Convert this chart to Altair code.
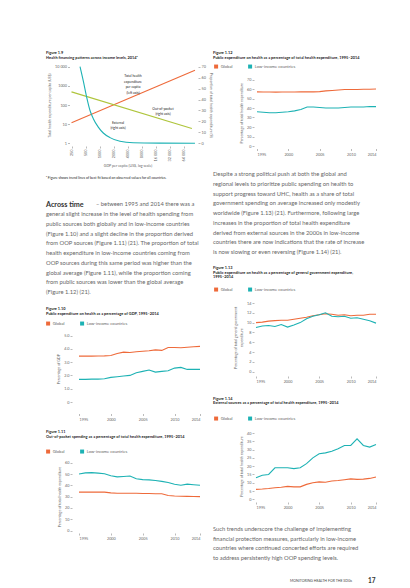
import altair as alt
import pandas as pd

# ---------------- data ----------------
years = list(range(1995, 2015))

# Figure 1.9 - trend lines across GDP per capita (log scale)
f19_gdp_ticks = [250, 500, 1000, 2000, 4000, 8000, 16000, 32000, 64000]
f19_the_gdp = [250, 113000]
f19_the_val = [12, 6600]
f19_oop_gdp = [250, 97000]
f19_oop_val = [47, 13.5]
f19_ext_gdp = [381, 448, 531, 625, 736, 942, 1206, 1682, 2755, 5320, 20000, 113000]
f19_ext_val = [70, 57, 42, 30, 22.5, 14.8, 9.4, 5.2, 1.8, 0.5, 0.2, 0.1]

# Figure 1.10 - public expenditure on health, % of GDP
f110_global = [3.45, 3.45, 3.45, 3.46, 3.47, 3.5, 3.65, 3.75, 3.72, 3.78, 3.82, 3.85, 3.92, 3.88, 4.1, 4.1, 4.08, 4.12, 4.15, 4.18]
f110_low = [1.7, 1.7, 1.72, 1.72, 1.75, 1.85, 1.9, 1.95, 2.0, 2.2, 2.3, 2.4, 2.25, 2.3, 2.35, 2.55, 2.6, 2.45, 2.45, 2.45]

# Figure 1.11 - out-of-pocket, % of total health expenditure
f111_global = [34, 34, 34, 34, 34, 33.3, 33, 33, 33, 33, 32.8, 32.8, 32.5, 32.5, 31, 30.5, 30.3, 30.2, 30.1, 30]
f111_low = [50, 51, 51.2, 50.8, 50.2, 48.5, 47.5, 47.8, 48.2, 45.8, 45, 44.8, 44.2, 43.5, 42.5, 41, 40, 41, 40.5, 40]

# Figure 1.12 - public expenditure, % of total health expenditure
f112_global = [57, 56.8, 56.8, 56.7, 56.8, 56.8, 56.9, 57, 57, 57, 57.2, 58, 58.5, 59, 59.5, 59.5, 59.5, 59.8, 59.8, 60]
f112_low = [36, 35.5, 35, 35, 35.5, 36, 37, 38.5, 41, 41, 40.5, 40, 40, 40, 40.5, 41, 41, 41, 41.5, 41.5]

# Figure 1.13 - public expenditure on health, % of general government expenditure
f113_global = [10.0, 10.1, 10.3, 10.4, 10.5, 10.5, 10.7, 10.9, 11.1, 11.4, 11.6, 11.8, 11.7, 11.5, 11.6, 11.4, 11.5, 11.5, 11.7, 11.7]
f113_low = [9.0, 9.3, 9.4, 9.2, 9.6, 9.1, 9.5, 10.0, 10.8, 11.3, 11.6, 12.0, 11.3, 11.2, 11.3, 10.9, 11.0, 10.7, 10.4, 9.9]

# Figure 1.14 - external sources, % of total health expenditure
f114_global = [6, 6.2, 6.5, 7, 7.3, 7.8, 7.5, 7.5, 9, 10, 10.5, 10.3, 11, 11.3, 11.8, 12.3, 12, 12.2, 12.6, 13.5]
f114_low = [13, 14.5, 15, 19, 19, 19, 18.5, 19, 21.5, 25, 27.5, 28, 29, 30.5, 32.5, 32.5, 36.5, 32.5, 31.5, 33]

series_names = ["Global", "Low-income countries"]
year_ticks = [1995, 2000, 2005, 2010, 2014]

# ---------------- text ----------------
left_lead = "Across time"
left_first_rest = "– between 1995 and 2014 there was a"
left_para = [
    "general slight increase in the level of health spending from",
    "public sources both globally and in low-income countries",
    "(Figure 1.10) and a slight decline in the proportion derived",
    "from OOP sources (Figure 1.11) (21). The proportion of total",
    "health expenditure in low-income countries coming from",
    "OOP sources during this same period was higher than the",
    "global average (Figure 1.11), while the proportion coming",
    "from public sources was lower than the global average",
    "(Figure 1.12) (21).",
]
right_para1 = [
    "Despite a strong political push at both the global and",
    "regional levels to prioritize public spending on health to",
    "support progress toward UHC, health as a share of total",
    "government spending on average increased only modestly",
    "worldwide (Figure 1.13) (21). Furthermore, following large",
    "increases in the proportion of total health expenditure",
    "derived from external sources in the 2000s in low-income",
    "countries there are now indications that the rate of increase",
    "is now slowing or even reversing (Figure 1.14) (21).",
]
right_para2 = [
    "Such trends underscore the challenge of implementing",
    "financial protection measures, particularly in low-income",
    "countries where continued concerted efforts are required",
    "to address persistently high OOP spending levels.",
]

# ---------------- style / layout ----------------
FONT = "Lato"
GRAY = "#666666"
DARK = "#1e1e1e"
ORANGE = "#EE6A3A"
TEAL = "#1DB2B4"
GREEN = "#AFC53C"
W, H = 394, 579


def cx(X):
    return X - 8


def cy(Y):
    return Y - 8


BLANK = pd.DataFrame({"k": [0]})


def ax(**kw):
    base = dict(grid=False, domain=False, tickSize=2, tickWidth=0.5, tickColor="#777777",
                labelFontSize=3.8, labelColor=GRAY, labelFont=FONT, titleFont=FONT,
                titleFontSize=3.6, titleColor=GRAY, titleFontWeight="normal")
    base.update(kw)
    return alt.Axis(**base)


def txt(lines, X, Y, size, color=GRAY, weight="normal", lh=None, align="left", baseline="alphabetic"):
    kw = dict(align=align, baseline=baseline, fontSize=size, color=color, fontWeight=weight, font=FONT,
              text=lines if len(lines) > 1 else lines[0])
    if lh:
        kw["lineHeight"] = lh
    return alt.Chart(BLANK).mark_text(**kw).encode(x=alt.value(cx(X)), y=alt.value(cy(Y)))


def ts_chart(glob, low, x0, x1, ybot, ytop, ymax, yticks, yaxis_x, xaxis_y, ytitle, leg_x, leg_y, label_expr=None):
    df = pd.DataFrame({"year": years + years, "value": glob + low,
                       "series": [series_names[0]] * len(years) + [series_names[1]] * len(years)})
    yax = dict(orient="left", offset=-cx(yaxis_x), values=yticks, title=ytitle, labelPadding=1, titlePadding=3)
    if label_expr:
        yax["labelExpr"] = label_expr
    return alt.Chart(df).mark_line(strokeWidth=1.1).encode(
        x=alt.X("year:Q", scale=alt.Scale(domain=[1995, 2014], range=[cx(x0), cx(x1)], nice=False, zero=False),
                axis=ax(orient="bottom", offset=cy(xaxis_y) - H, values=year_ticks, format="d", title=None,
                        labelPadding=1.5)),
        y=alt.Y("value:Q", scale=alt.Scale(domain=[0, ymax], range=[cy(ybot), cy(ytop)], nice=False),
                axis=ax(**yax)),
        color=alt.Color("series:N", scale=alt.Scale(domain=series_names, range=[ORANGE, TEAL]),
                        legend=alt.Legend(orient="none", legendX=cx(leg_x), legendY=cy(leg_y), direction="horizontal",
                                          title=None, symbolType="square", symbolSize=4, symbolStrokeWidth=2.0,
                                          labelFontSize=4.2, labelColor=GRAY, labelFont=FONT, columnPadding=12,
                                          labelOffset=2.5, padding=0)),
    )


layers = []

# ---- Figure 1.9 ----
f19_x = alt.Scale(type="log", domain=[250, 64000], range=[cx(71.5), cx(183.5)])
df_the = pd.DataFrame({"gdp": f19_the_gdp, "val": f19_the_val})
layers.append(alt.Chart(df_the).mark_line(color=ORANGE, strokeWidth=1.1).encode(
    x=alt.X("gdp:Q", scale=f19_x,
            axis=ax(orient="bottom", offset=cy(146) - H, values=f19_gdp_ticks, labelAngle=270, labelPadding=1,
                    labelExpr="datum.value >= 10000 ? replace(format(datum.value, ','), ',', ' ') : format(datum.value, 'd')",
                    title="GDP per capita (US$, log scale)", titlePadding=3)),
    y=alt.Y("val:Q", scale=alt.Scale(type="log", domain=[1, 10000], range=[cy(143.3), cy(66.7)]),
            axis=ax(orient="left", offset=-cx(69.5), values=[1, 10, 100, 1000, 10000], labelPadding=1,
                    labelExpr="datum.value == 10000 ? '10 000' : format(datum.value, 'd')",
                    title="Total health expenditure per capita (US$)", titlePadding=3)),
))
df_r = pd.DataFrame({"gdp": f19_oop_gdp + f19_ext_gdp, "val": f19_oop_val + f19_ext_val,
                     "series": ["Out-of-pocket"] * len(f19_oop_gdp) + ["External"] * len(f19_ext_gdp)})
layers.append(alt.Chart(df_r).mark_line(strokeWidth=1.1, interpolate="monotone").encode(
    x=alt.X("gdp:Q", scale=f19_x, axis=None),
    y=alt.Y("val:Q", scale=alt.Scale(domain=[0, 70], range=[cy(143.3), cy(66.7)], nice=False),
            axis=ax(orient="right", offset=cx(198) - W, values=list(range(0, 80, 10)), labelPadding=1,
                    title="Proportion of total health expenditure (%)", titlePadding=3)),
    color=alt.Color("series:N", scale=alt.Scale(domain=["Out-of-pocket", "External"], range=[GREEN, TEAL]),
                    legend=None),
))

# ---- Figure 1.10 ----
layers.append(ts_chart(f110_global, f110_low, 79, 200, 402, 335.5, 5, [0, 1, 2, 3, 4, 5], 72, 413.5,
                       "Percentage of GDP", 46, 321,
                       label_expr="datum.value == 0 ? '0' : format(datum.value, '.1f')"))
# ---- Figure 1.11 ----
layers.append(ts_chart(f111_global, f111_low, 79, 200, 530.5, 462.7, 60, list(range(0, 70, 10)), 72, 533,
                       "Percentage of total health expenditure", 46, 449))
# ---- Figure 1.12 ----
layers.append(ts_chart(f112_global, f112_low, 257, 376, 146, 79.5, 70, list(range(0, 80, 10)), 254, 148.5,
                       "Percentage of total health expenditure", 214, 64))
# ---- Figure 1.13 ----
layers.append(ts_chart(f113_global, f113_low, 256, 376, 371.7, 303, 14, list(range(0, 16, 2)), 254, 376,
                       ["Percentage of total general government", "expenditure"], 214, 287))
# ---- Figure 1.14 ----
layers.append(ts_chart(f114_global, f114_low, 256, 376, 499.3, 433, 40, list(range(0, 45, 5)), 254, 502,
                       "Percentage of total health expenditure", 214, 416))

# ---- captions ----
cap = 3.9
layers += [
    txt(["Figure 1.9"], 46, 54, cap, DARK, "bold"),
    txt(["Health financing patterns across income levels, 2014ᵃ"], 46, 58.5, cap, DARK, "bold"),
    txt(["Figure 1.12"], 213, 54, cap, DARK, "bold"),
    txt(["Public expenditure on health as a percentage of total health expenditure, 1995–2014"], 213, 58.5, cap, DARK, "bold"),
    txt(["Figure 1.10"], 46, 310, cap, DARK, "bold"),
    txt(["Public expenditure on health as a percentage of GDP, 1995–2014"], 46, 314.5, cap, DARK, "bold"),
    txt(["Figure 1.11"], 46, 433, cap, DARK, "bold"),
    txt(["Out-of-pocket spending as a percentage of total health expenditure, 1995–2014"], 46, 437.5, cap, DARK, "bold"),
    txt(["Figure 1.13"], 213, 269, cap, DARK, "bold"),
    txt(["Public expenditure on health as a percentage of general government expenditure,", "1995–2014"], 213, 273.5, cap, DARK, "bold", lh=4.4),
    txt(["Figure 1.14"], 213, 399.5, cap, DARK, "bold"),
    txt(["External sources as a percentage of total health expenditure, 1995–2014"], 213, 404, cap, DARK, "bold"),
    # fig 1.9 annotations
    txt(["Total health", "expenditure", "per capita", "(left axis)"], 133, 77, 3.4, DARK, lh=5.6, align="center"),
    txt(["Out-of-pocket", "(right axis)"], 163, 110, 3.4, DARK, lh=5, align="center"),
    txt(["External", "(right axis)"], 118, 124, 3.4, DARK, lh=5, align="center"),
    txt(["ᵃ Figure shows trend lines of best fit based on observed values for all countries."], 46, 178.5, 3.5, DARK),
    # body text
    txt([left_lead], 46, 206.5, 7.2, "#333333", "bold"),
    txt([left_first_rest], 96, 206, 5.8),
    txt(left_para, 46, 216, 5.8, lh=9.78),
    txt(right_para1, 213, 176, 5.8, lh=9.75),
    txt(right_para2, 213, 531, 5.8, lh=9.5),
    txt(["MONITORING HEALTH FOR THE SDGs"], 290, 582, 3.5, "#444444"),
    txt(["17"], 368, 583, 6.5, "#333333", "bold"),
]

chart = alt.layer(*layers).resolve_scale(
    x="independent", y="independent", color="independent"
).properties(
    width=W, height=H, autosize=alt.AutoSizeParams(type="none"), padding=0, background="white"
).configure_view(stroke=None)

chart.save("out.html", embed_options={"renderer": "svg", "actions": False})
